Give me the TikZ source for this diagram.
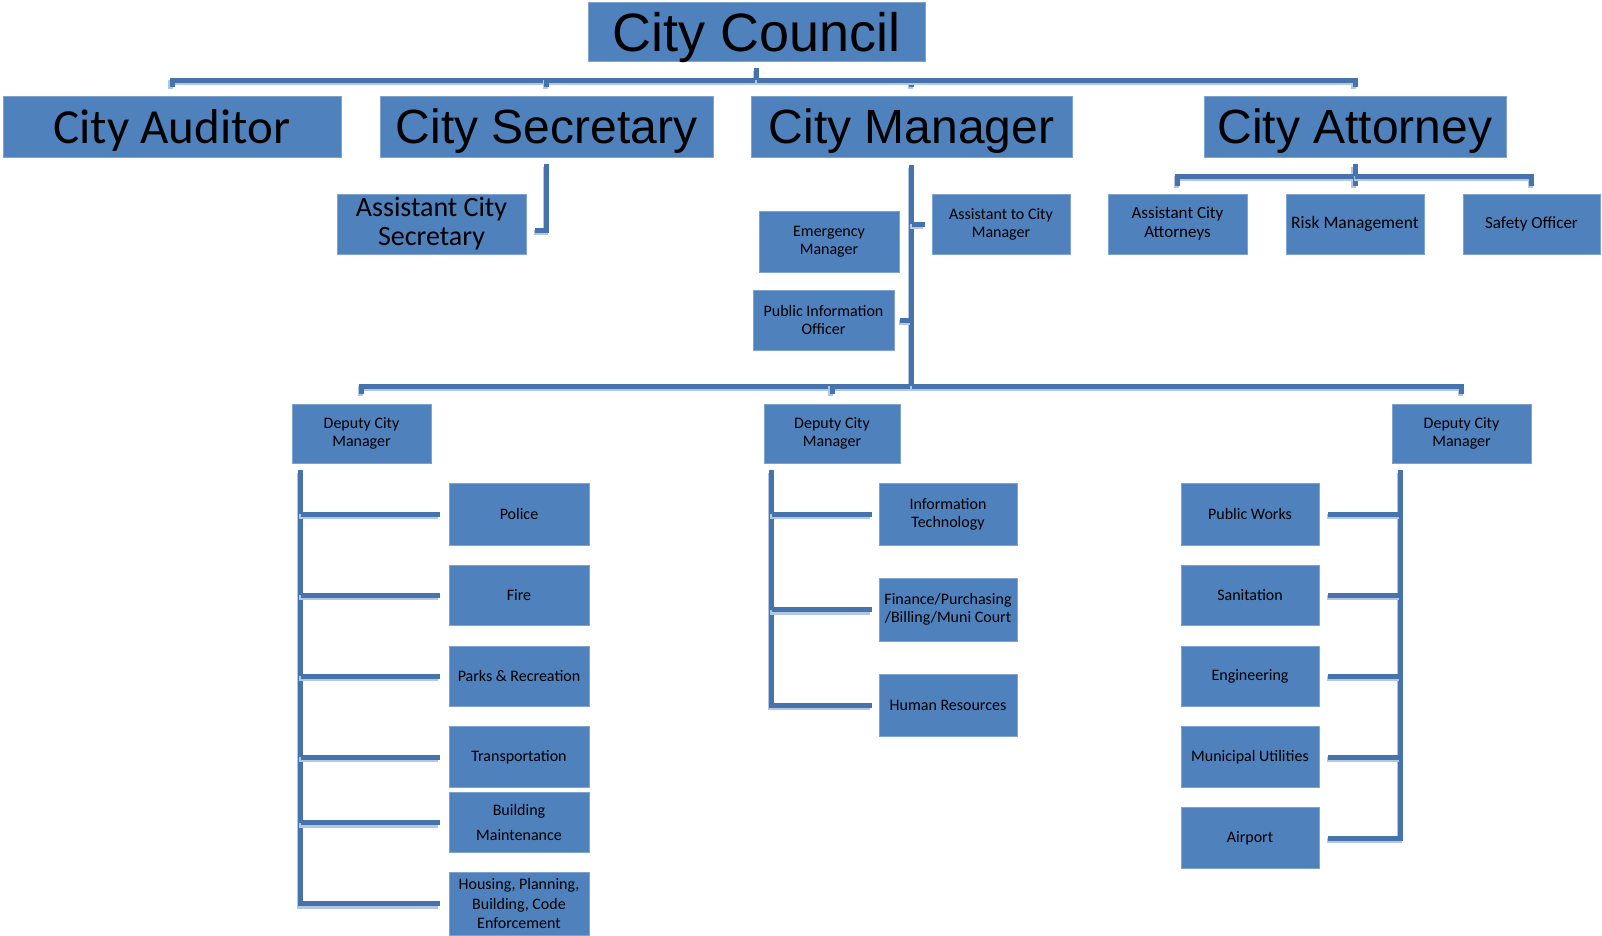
\documentclass[tikz,border=0pt]{standalone}
\usepackage{fontspec}
\setmainfont{Carlito}
\newfontfamily\headfont{Liberation Sans}

\definecolor{boxblue}{HTML}{4F81BD}
\definecolor{boxedge}{HTML}{7FA2CE}
\definecolor{linkblue}{HTML}{4673AC}
\definecolor{linkshade}{HTML}{B3C7E3}

\begin{document}
\begin{tikzpicture}[x=1pt, y=-1pt, node distance=81pt, >=stealth]

        % Styles
        \tikzstyle{box}=[rectangle, fill=boxblue, draw=boxedge, line width=0.6pt, inner sep=0pt, align=center]
        \tikzstyle{head}=[box, minimum height=61pt, text depth=0pt, font=\headfont\fontsize{48}{52}\selectfont]
        \tikzstyle{unit}=[box, minimum width=139pt, minimum height=60pt, font=\fontsize{16}{18}\selectfont]
        \tikzstyle{link}=[draw=linkblue, line width=5pt, preaction={draw=linkshade, line width=5pt, transform canvas={shift={(-1.5pt,-2.5pt)}}}]

        \useasboundingbox (0,0) rectangle (1602,935);

        % Nodes
        \node[head, minimum width=337pt, minimum height=59pt, font=\headfont\fontsize{54}{58}\selectfont] (council) at (756.5,31.5) {City Council};
        \node[head, minimum width=338pt, font=\fontsize{49}{52}\selectfont] (auditor) at (172,126.5) {City Auditor};
        \node[head, minimum width=333pt] (secretary) at (546.5,126.5) {City Secretary};
        \node[head, minimum width=321pt] (manager) at (911.5,126.5) {City Manager};
        \node[head, minimum width=302pt] (attorney) at (1355,126.5) {City Attorney};

        \node[unit, minimum width=189pt, font=\fontsize{28}{29}\selectfont] (asstsec) at (431.5,224) {Assistant City\\Secretary};
        \node[unit, minimum width=138pt] (asstcm) at (1001,224) {Assistant to City\\Manager};
        \node[unit, minimum width=140pt, minimum height=61pt] (emergency) at (829,241.5) {Emergency\\Manager};
        \node[unit, minimum width=141pt] (pio) at (823.5,320) {Public Information\\Officer};
        \node[unit, font=\fontsize{17}{19}\selectfont] (asstatty) at (1177.5,224) {Assistant City\\Attorneys};
        \node[unit, minimum width=138pt, font=\fontsize{17.5}{19}\selectfont] (risk) at (1355,224) {Risk Management};
        \node[unit, minimum width=137pt, font=\fontsize{17}{19}\selectfont] (safety) at (1531.5,224) {Safety Officer};

        \node[unit, minimum height=59pt] (dcm1) at (361.5,433.5) {Deputy City\\Manager};
        \node[unit, minimum width=136pt, minimum height=59pt] (dcm2) at (832,433.5) {Deputy City\\Manager};
        \node[unit, minimum height=59pt] (dcm3) at (1461.5,433.5) {Deputy City\\Manager};

        \node[unit, minimum width=140pt, minimum height=62pt] (police) at (519,514) {Police};
        \node[unit, minimum width=140pt, below of=police] (fire) {Fire};
        \node[unit, minimum width=140pt, below of=fire] (parks) {Parks \& Recreation};
        \node[unit, minimum width=140pt, minimum height=61pt, below of=parks] (transport) {Transportation};
        \node[unit, minimum width=140pt, node distance=65.5pt, below of=transport] (maintenance) {Building\\[7pt]Maintenance};
        \node[unit, minimum width=140pt, minimum height=63pt, font=\fontsize{16}{19.5}\selectfont, below of=maintenance] (housing) {Housing, Planning,\\Building, Code\\Enforcement};

        \node[unit, minimum width=138pt, minimum height=62pt] (infotech) at (948,514) {Information\\Technology};
        \node[unit, minimum width=138pt, minimum height=63pt, node distance=95.5pt, below of=infotech] (finance) {Finance/Purchasing\\/Billing/Muni Court};
        \node[unit, minimum width=138pt, minimum height=62pt, node distance=95.5pt, below of=finance] (hr) {Human Resources};

        \node[unit, minimum width=138pt, minimum height=62pt] (works) at (1250,514) {Public Works};
        \node[unit, minimum width=138pt, below of=works] (sanitation) {Sanitation};
        \node[unit, minimum width=138pt, below of=sanitation] (engineering) {Engineering};
        \node[unit, minimum width=138pt, minimum height=61pt, below of=engineering] (utilities) {Municipal Utilities};
        \node[unit, minimum width=138pt, minimum height=61pt, below of=utilities] (airport) {Airport};

        % Connectors: council
        \coordinate (topbus) at (756.5,80);
        \draw[link, shorten <=7pt] (council.south) -- (topbus);
        \foreach \n in {auditor, secretary, manager, attorney}
            \draw[link, shorten >=9pt] (topbus) -| (\n.north);

        % Connectors: secretary
        \draw[link, shorten <=7pt, shorten >=9pt] (secretary.south) |- ([yshift=-6pt]asstsec.east);

        % Connectors: manager
        \coordinate (midbus) at (911.5,386);
        \draw[link, shorten <=8pt] (manager.south) -- (midbus);
        \draw[link, shorten >=7pt] (manager.south |- asstcm.west) -- (asstcm.west);
        \draw[link, shorten >=6pt] (manager.south |- pio.east) -- (pio.east);
        \foreach \n in {dcm1, dcm2, dcm3}
            \draw[link, shorten >=10pt] (midbus) -| (\n.north);

        % Connectors: attorney
        \coordinate (attbus) at (1355,176);
        \draw[link, shorten <=7pt] (attorney.south) -- (attbus);
        \foreach \n in {asstatty, risk, safety}
            \draw[link, shorten >=8pt] (attbus) -| (\n.north);

        % Connectors: deputies
        \coordinate (ltrunk) at ([xshift=9pt]dcm1.south west);
        \draw[link, shorten <=7pt, shorten >=9pt] (ltrunk) |- (housing.west);
        \foreach \n in {police, fire, parks, transport, maintenance}
            \draw[link, shorten >=9pt] (ltrunk |- \n.west) -- (\n.west);

        \coordinate (mtrunk) at ([xshift=8pt]dcm2.south west);
        \draw[link, shorten <=7pt, shorten >=7pt] (mtrunk) |- (hr.west);
        \foreach \n in {infotech, finance}
            \draw[link, shorten >=7pt] (mtrunk |- \n.west) -- (\n.west);

        \coordinate (rtrunk) at ([xshift=9pt]dcm3.south west);
        \draw[link, shorten <=7pt, shorten >=9pt] (rtrunk) |- (airport.east);
        \foreach \n in {works, sanitation, engineering, utilities}
            \draw[link, shorten >=9pt] (rtrunk |- \n.east) -- (\n.east);

    \end{tikzpicture}
\end{document}
